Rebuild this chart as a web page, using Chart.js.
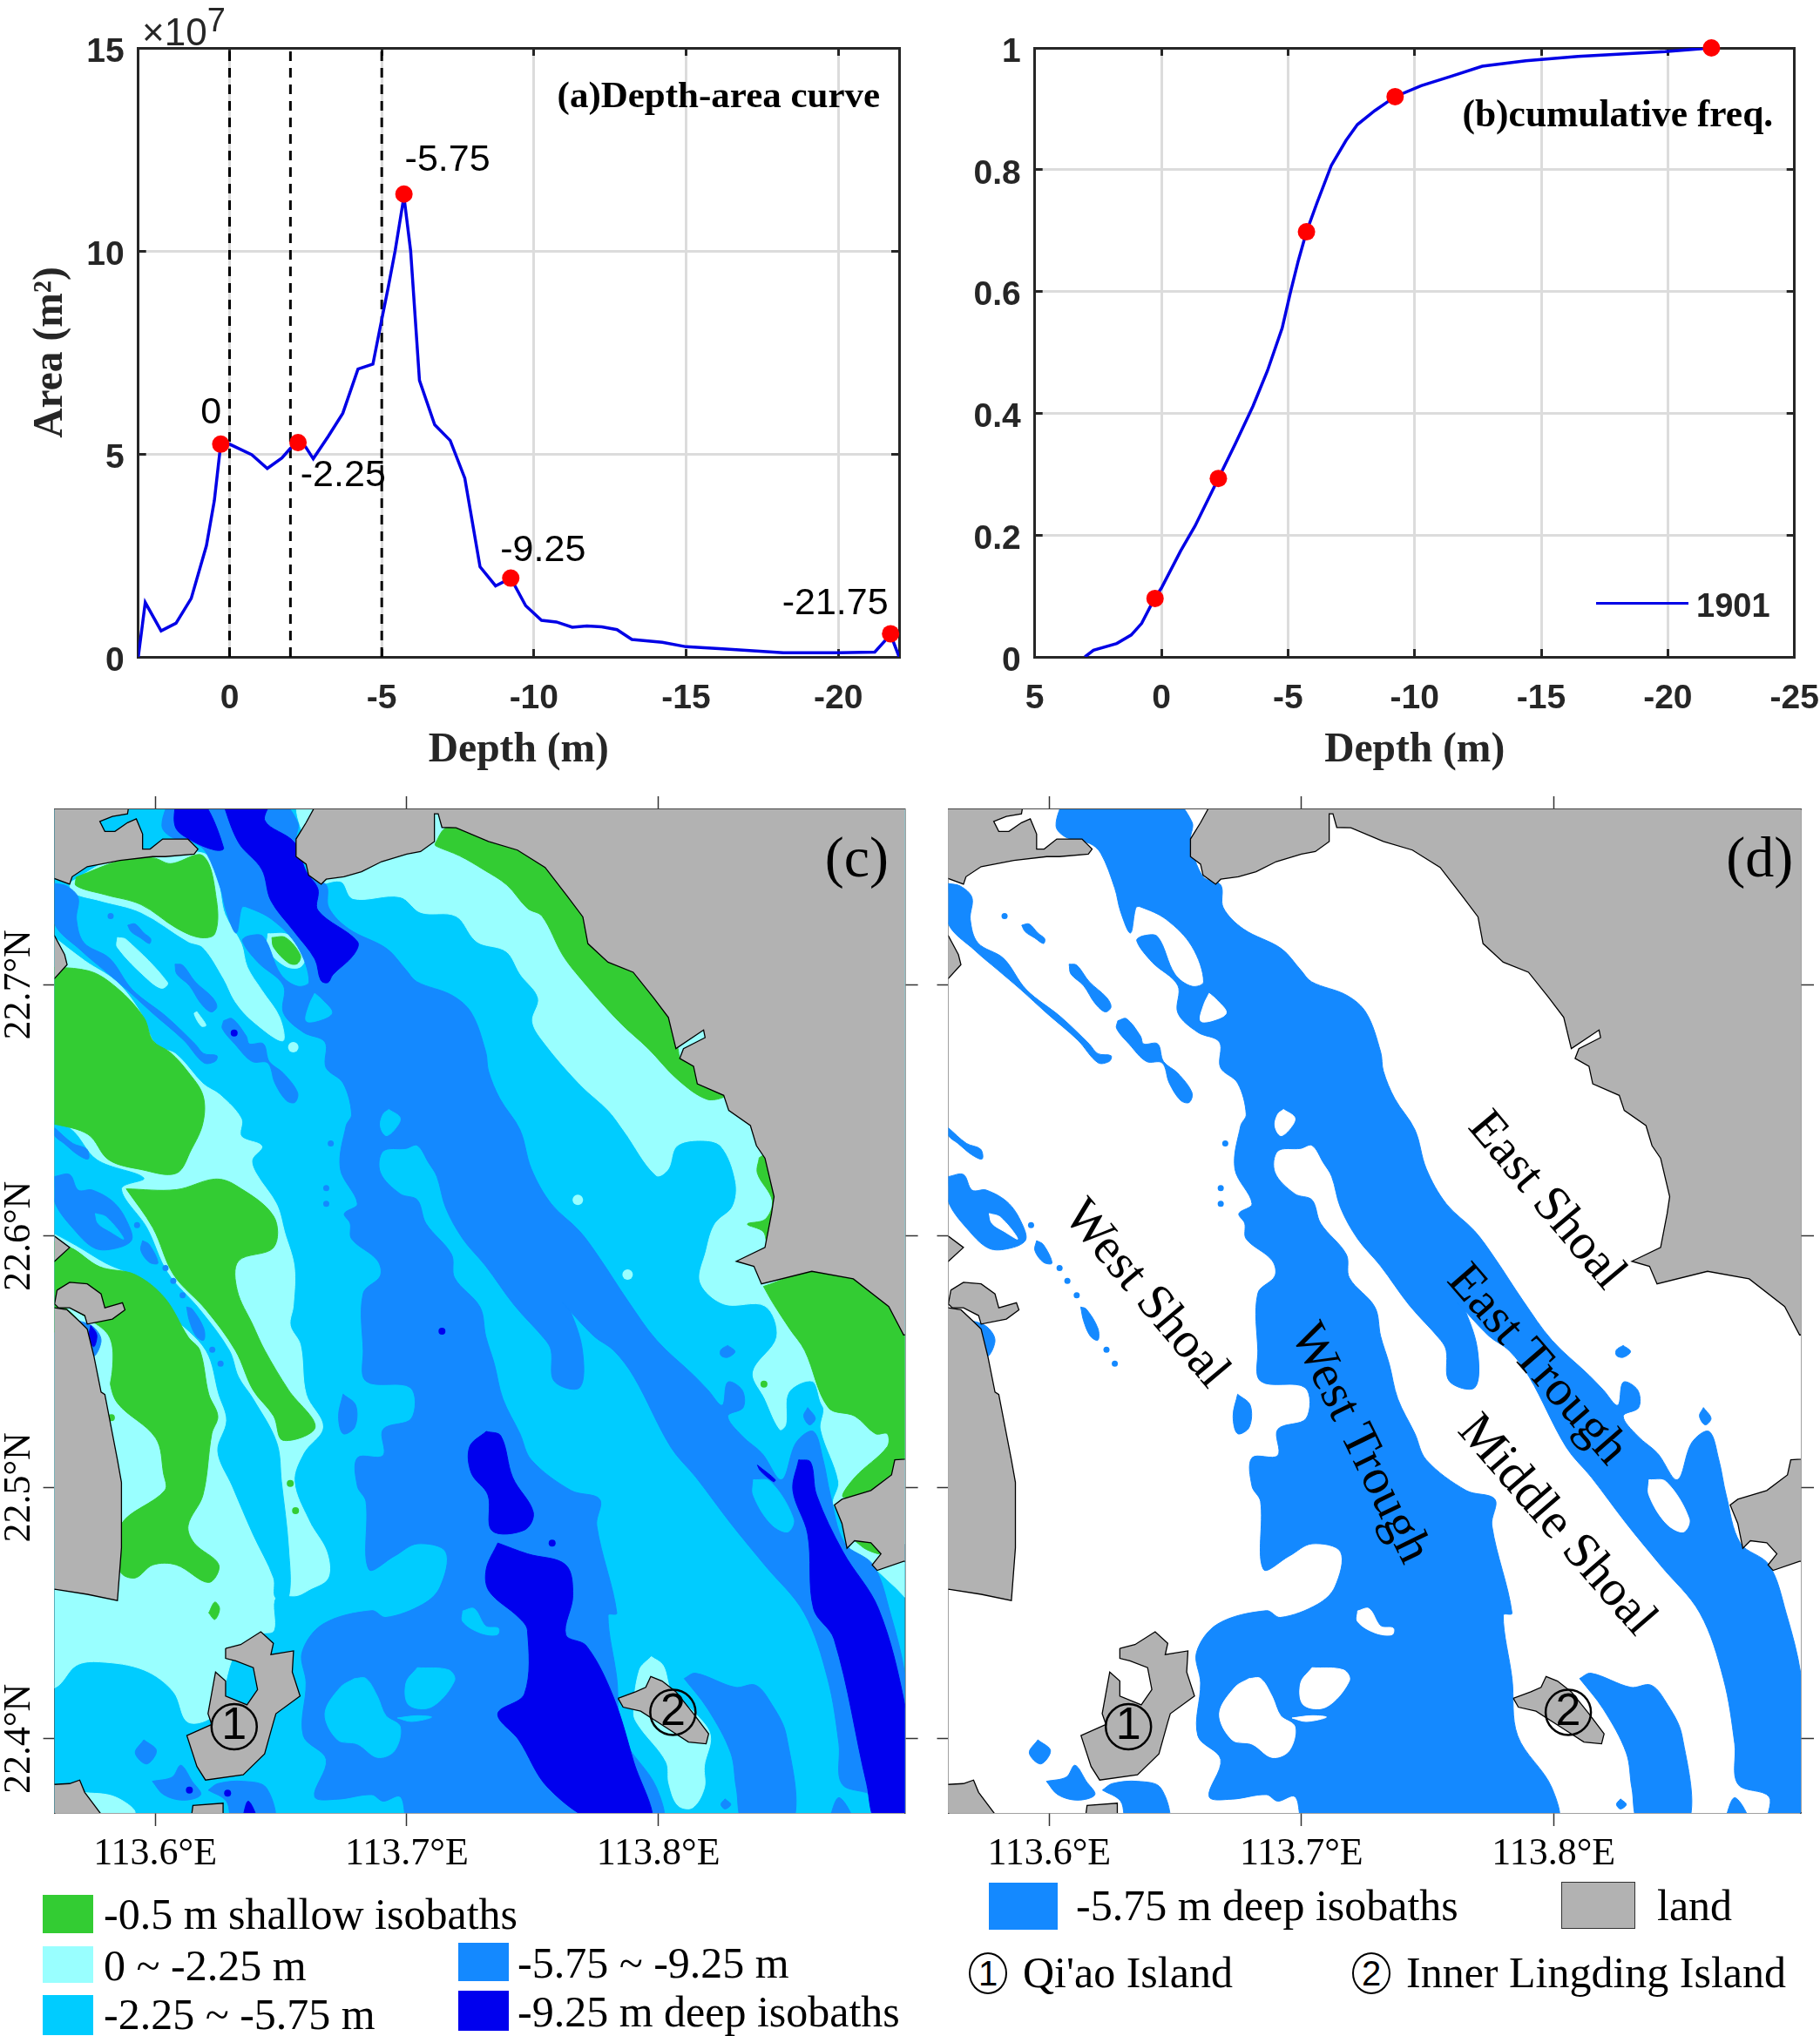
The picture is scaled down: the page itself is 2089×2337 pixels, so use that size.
<!DOCTYPE html>
<html>
<head>
<meta charset="utf-8">
<title>Depth-area curve and isobaths</title>
<script src="https://cdn.jsdelivr.net/npm/chart.js@4"></script>
<style>
  body { margin:0; background:#fff; width:2089px; height:2337px; position:relative; overflow:hidden; }
  canvas { position:absolute; }
  .t { position:absolute; white-space:nowrap; line-height:1; color:#000; z-index:3; }
  .serif { font-family:"Liberation Serif"; font-size:50px; transform:translateY(-50%); }
  .sw { position:absolute; z-index:3; box-sizing:border-box; }
  .ring { position:absolute; z-index:3; width:44px; height:48px; border:2.5px solid #000; border-radius:50%;
          font:40px "Liberation Sans"; text-align:center; line-height:44px; box-sizing:border-box; }
</style>
</head>
<body>
<canvas id="cA" style="left:0;top:0" width="1045" height="900"></canvas>
<canvas id="cB" style="left:1045px;top:0" width="1044" height="900"></canvas>
<canvas id="cC" style="left:0;top:900px" width="1080" height="1260"></canvas>
<canvas id="cD" style="left:1060px;top:900px" width="1050" height="1260"></canvas>

<span class="t" style="left:163px;top:12px;font:44px 'Liberation Sans';color:#262626">×10<span style="font-size:38px;position:relative;top:-16px">7</span></span>
<div class="sw" style="left:1832px;top:691px;width:106px;height:3px;background:#0000E6"></div>
<span class="t" style="left:1947px;top:674px;font:bold 38px 'Liberation Sans';color:#262626">1901</span>

<div class="sw" style="left:49px;top:2175px;width:58px;height:44px;background:#33CC33"></div>
<span class="t serif" style="left:119px;top:2197px">-0.5 m shallow isobaths</span>
<div class="sw" style="left:49px;top:2234px;width:58px;height:42px;background:#99FFFF"></div>
<span class="t serif" style="left:119px;top:2256px">0 ~ -2.25 m</span>
<div class="sw" style="left:49px;top:2290px;width:58px;height:46px;background:#00CCFF"></div>
<span class="t serif" style="left:119px;top:2312px">-2.25 ~ -5.75 m</span>
<div class="sw" style="left:526px;top:2230px;width:58px;height:44px;background:#1489FF"></div>
<span class="t serif" style="left:594px;top:2253px">-5.75 ~ -9.25 m</span>
<div class="sw" style="left:526px;top:2285px;width:58px;height:46px;background:#0000EE"></div>
<span class="t serif" style="left:594px;top:2309px">-9.25 m deep isobaths</span>

<div class="sw" style="left:1135px;top:2161px;width:79px;height:54px;background:#1489FF"></div>
<span class="t serif" style="left:1235px;top:2187px">-5.75 m deep isobaths</span>
<div class="sw" style="left:1792px;top:2160px;width:85px;height:54px;background:#B2B2B2;border:1px solid #333"></div>
<span class="t serif" style="left:1902px;top:2187px">land</span>
<div class="ring" style="left:1112px;top:2241px">1</div>
<span class="t serif" style="left:1174px;top:2264px">Qi'ao Island</span>
<div class="ring" style="left:1552px;top:2241px">2</div>
<span class="t serif" style="left:1614px;top:2264px">Inner Lingding Island</span>

<script>
// (a) depth-area curve, x is depth in m, y is area in 1e7 m2
const areaDepth = [3,2.77,2.25,1.76,1.26,.76,.5,.29,0,-.73,-1.24,-1.72,-2,-2.25,-2.5,-2.75,-3.24,-3.72,-4.22,-4.71,-4.96,-5.21,-5.44,-5.73,-5.95,-6.24,-6.74,-7.25,-7.73,-8.23,-8.74,-9.24,-9.73,-10.25,-10.74,-11.26,-11.74,-12.23,-12.73,-13.22,-14.22,-15,-16.2,-18.2,-20,-21.2,-21.72,-22];
const areaValue = [0,1.34,.64,.83,1.44,2.74,3.85,5.24,5.24,4.98,4.64,4.9,5.14,5.28,5.17,4.88,5.43,6,7.09,7.21,8.16,9.09,10,11.34,10,6.81,5.72,5.33,4.4,2.22,1.75,1.94,1.26,.9,.86,.73,.76,.74,.67,.43,.36,.25,.2,.1,.1,.12,.55,0];
const areaMarkX = [.29,-2.25,-5.73,-9.24,-21.72];
const areaMarkY = [5.24,5.28,11.4,1.94,.57];
const dashDepths = [0,-2,-5];
const areaXTicks = [0,-5,-10,-15,-20];
const areaYTicks = [0,5,10,15];

// (b) cumulative frequency
const cumDepth = [3.02,2.68,1.76,1.19,.78,.27,0,-.76,-1.33,-2.25,-2.93,-3.62,-4.19,-4.77,-5.11,-5.41,-5.73,-6.14,-6.71,-7.29,-7.74,-8.43,-9.23,-10.26,-11.41,-12.67,-14.39,-16.45,-19.89,-21.72];
const cumValue = [0,.011,.022,.036,.055,.096,.113,.174,.215,.293,.351,.412,.47,.54,.601,.651,.698,.745,.807,.848,.874,.897,.92,.938,.953,.97,.979,.986,.994,1];
const cumMarkX = [.25,-2.25,-5.73,-9.23,-21.72];
const cumMarkY = [.096,.293,.698,.92,1];
const cumXTicks = [5,0,-5,-10,-15,-20,-25];
const cumYTicks = [0,.2,.4,.6,.8,1];

// maps, every ring is [lon, lat] pairs
const lonTicks = [113.6,113.7,113.8];
const latTicks = [22.4,22.5,22.6,22.7];

const landRings = [
  [[113.55,22.78],[113.591,22.78],[113.589,22.768],[113.583,22.767],[113.578,22.765],[113.58,22.761],[113.584,22.761],[113.589,22.7645],[113.5925,22.766],[113.595,22.76],[113.595,22.754],[113.598,22.754],[113.603,22.758],[113.613,22.758],[113.617,22.754],[113.6155,22.752],[113.604,22.751],[113.599,22.751],[113.586,22.7495],[113.573,22.747],[113.567,22.743],[113.566,22.74],[113.55,22.746]],
  [[113.663,22.78],[113.663,22.77],[113.66,22.7645],[113.656,22.758],[113.656,22.751],[113.66,22.748],[113.661,22.7436],[113.666,22.74],[113.668,22.742],[113.675,22.743],[113.682,22.745],[113.69,22.749],[113.7,22.752],[113.7055,22.753],[113.711,22.757],[113.711,22.768],[113.7125,22.768],[113.714,22.7626],[113.7196,22.7625],[113.7325,22.757],[113.744,22.7536],[113.755,22.7467],[113.764,22.735],[113.77,22.727],[113.772,22.7164],[113.78,22.709],[113.79,22.705],[113.798,22.695],[113.804,22.687],[113.807,22.6746],[113.818,22.682],[113.8186,22.679],[113.81,22.6746],[113.8085,22.6707],[113.814,22.6676],[113.8155,22.6606],[113.826,22.656],[113.828,22.65],[113.8366,22.644],[113.839,22.636],[113.8424,22.631],[113.846,22.6157],[113.845,22.609],[113.8424,22.5955],[113.831,22.59],[113.838,22.588],[113.841,22.581],[113.861,22.586],[113.8775,22.583],[113.8916,22.572],[113.8975,22.5607],[113.91,22.5607],[113.91,22.78]],
  [[113.55,22.7195],[113.56,22.7195],[113.564,22.712],[113.565,22.708],[113.56,22.7025],[113.55,22.7025]],
  [[113.55,22.6],[113.56,22.6],[113.566,22.5955],[113.56,22.59],[113.55,22.59]],
  [[113.561,22.5785],[113.566,22.5816],[113.573,22.581],[113.5785,22.577],[113.58,22.5715],[113.587,22.5735],[113.588,22.5707],[113.583,22.567],[113.573,22.565],[113.572,22.5684],[113.566,22.5715],[113.5616,22.5715],[113.56,22.573]],
  [[113.55,22.5715],[113.56,22.5715],[113.565,22.5707],[113.57,22.566],[113.573,22.563],[113.5757,22.552],[113.5785,22.538],[113.58,22.537],[113.585,22.511],[113.5866,22.502],[113.5866,22.476],[113.585,22.455],[113.573,22.4575],[113.56,22.4595],[113.55,22.4595]],
  [[113.628,22.436],[113.634,22.4375],[113.642,22.4426],[113.647,22.438],[113.646,22.4335],[113.655,22.435],[113.6545,22.4266],[113.6576,22.417],[113.648,22.41],[113.647,22.4066],[113.6435,22.394],[113.635,22.3857],[113.62,22.3836],[113.6166,22.389],[113.6126,22.4013],[113.6225,22.4057],[113.621,22.41],[113.624,22.4266],[113.628,22.423],[113.628,22.417],[113.6365,22.4135],[113.6407,22.4196],[113.639,22.4283],[113.632,22.431],[113.628,22.432]],
  [[113.784,22.4161],[113.791,22.4187],[113.795,22.4205],[113.797,22.4248],[113.8015,22.423],[113.807,22.4187],[113.814,22.41],[113.82,22.402],[113.819,22.398],[113.812,22.3987],[113.8026,22.4048],[113.793,22.411],[113.786,22.4126]],
  [[113.55,22.3813],[113.566,22.3822],[113.57,22.3836],[113.572,22.3787],[113.5815,22.366],[113.55,22.366]],
  [[113.614,22.366],[113.615,22.3735],[113.627,22.3744],[113.627,22.366]],
  [[113.91,22.512],[113.894,22.511],[113.8927,22.505],[113.8845,22.4988],[113.873,22.4953],[113.87,22.493],[113.873,22.4857],[113.875,22.4758],[113.878,22.4788],[113.8845,22.478],[113.8885,22.4736],[113.885,22.4692],[113.887,22.467],[113.8975,22.4706],[113.91,22.4706]]
];

const deepRings = [
  [[113.606,22.775],[113.647,22.775],[113.6566,22.7648],[113.656,22.757],[113.661,22.743],[113.668,22.7397],[113.669,22.7307],[113.677,22.7222],[113.692,22.7144],[113.6997,22.7059],[113.704,22.7012],[113.718,22.6958],[113.7257,22.6888],[113.7314,22.6733],[113.7325,22.6656],[113.737,22.6547],[113.745,22.6423],[113.7495,22.6268],[113.7574,22.6129],[113.7687,22.602],[113.7767,22.5912],[113.788,22.5741],[113.7993,22.5586],[113.814,22.5447],[113.8197,22.5388],[113.8254,22.5327],[113.8276,22.5419],[113.8333,22.5388],[113.8337,22.5318],[113.8276,22.5284],[113.8333,22.5205],[113.8412,22.5136],[113.849,22.5031],[113.8548,22.5179],[113.8616,22.5223],[113.8655,22.511],[113.8684,22.497],[113.874,22.4779],[113.8854,22.4692],[113.8922,22.45],[113.898,22.4257],[113.905,22.366],[113.8854,22.366],[113.8854,22.377],[113.873,22.382],[113.8718,22.398],[113.8673,22.424],[113.858,22.45],[113.8424,22.469],[113.8288,22.4857],[113.815,22.504],[113.805,22.516],[113.7903,22.544],[113.7823,22.5545],[113.7744,22.5602],[113.762,22.5734],[113.7653,22.5695],[113.7699,22.554],[113.7687,22.5397],[113.7586,22.5423],[113.7574,22.5545],[113.7552,22.5586],[113.7427,22.5726],[113.7314,22.5881],[113.7223,22.5989],[113.7155,22.6113],[113.712,22.6237],[113.7087,22.6292],[113.7042,22.6361],[113.6997,22.6349],[113.6906,22.6338],[113.6895,22.6253],[113.6974,22.6168],[113.7042,22.6144],[113.7076,22.6051],[113.7178,22.5927],[113.719,22.5834],[113.7291,22.5718],[113.7314,22.5602],[113.7348,22.5492],[113.7382,22.5353],[113.745,22.5214],[113.7495,22.511],[113.7653,22.4988],[113.7767,22.4953],[113.7755,22.4849],[113.7835,22.45],[113.78,22.4492],[113.7835,22.424],[113.7857,22.4013],[113.7993,22.3805],[113.8004,22.366],[113.7019,22.366],[113.6974,22.377],[113.6906,22.3752],[113.6861,22.3778],[113.6725,22.376],[113.6634,22.377],[113.668,22.3918],[113.6589,22.4013],[113.66,22.4222],[113.6584,22.4344],[113.6668,22.4457],[113.6861,22.451],[113.6917,22.4483],[113.7065,22.4536],[113.7133,22.4605],[113.7155,22.4744],[113.7042,22.4776],[113.6951,22.4727],[113.6849,22.4675],[113.6838,22.4944],[113.6804,22.5005],[113.6804,22.5118],[113.6906,22.5127],[113.6906,22.5231],[113.7019,22.5275],[113.7015,22.5397],[113.6838,22.5423],[113.6827,22.5545],[113.6827,22.5772],[113.6895,22.5842],[113.6883,22.5904],[113.6781,22.5989],[113.6775,22.6051],[113.6752,22.609],[113.6804,22.6129],[113.6736,22.6268],[113.6759,22.6439],[113.6781,22.6485],[113.6747,22.6609],[113.6679,22.6671],[113.6675,22.6772],[113.6589,22.6811],[113.651,22.6888],[113.651,22.6997],[113.6408,22.709],[113.6347,22.7175],[113.6374,22.7195],[113.643,22.7191],[113.6498,22.7043],[113.6566,22.6994],[113.6612,22.7012],[113.6566,22.7152],[113.6464,22.726],[113.6362,22.731],[113.6344,22.7307],[113.6322,22.7206],[113.6283,22.7291],[113.626,22.7384],[113.6204,22.7524],[113.6159,22.7563],[113.6068,22.7586],[113.6027,22.7632]],
  [[113.5599,22.7403],[113.5649,22.7392],[113.5694,22.7346],[113.5687,22.726],[113.5717,22.7167],[113.5819,22.7105],[113.5909,22.6981],[113.6045,22.6873],[113.6159,22.6764],[113.6193,22.6726],[113.6245,22.6718],[113.6238,22.6695],[113.6193,22.669],[113.6113,22.678],[113.5989,22.6888],[113.5887,22.6981],[113.5796,22.7059],[113.5706,22.7136],[113.5599,22.7245]],
  [[113.5891,22.7237],[113.592,22.7242],[113.5955,22.7206],[113.5982,22.7183],[113.5977,22.7164],[113.5943,22.7186],[113.5905,22.7211]],
  [[113.6079,22.7082],[113.6109,22.7078],[113.6159,22.7012],[113.6227,22.695],[113.6245,22.6912],[113.6222,22.6892],[113.6181,22.6927],[113.6136,22.6997],[113.6086,22.7043]],
  [[113.6272,22.6857],[113.6306,22.6865],[113.6362,22.6796],[113.6374,22.6765],[113.643,22.6765],[113.6453,22.6695],[113.651,22.6648],[113.6566,22.6571],[113.6555,22.6532],[113.6521,22.654],[113.6476,22.6609],[113.6448,22.6689],[113.6385,22.6695],[113.6317,22.6764],[113.6267,22.6826]],
  [[113.56,22.6431],[113.5672,22.6369],[113.5728,22.6346],[113.5734,22.6307],[113.5694,22.6323],[113.5638,22.6369],[113.56,22.64]],
  [[113.56,22.6237],[113.566,22.6245],[113.5694,22.6183],[113.5751,22.6183],[113.5841,22.6129],[113.5898,22.6036],[113.5905,22.5982],[113.5841,22.5951],[113.5762,22.5951],[113.5683,22.602],[113.56,22.6137]],
  [[113.595,22.5982],[113.5977,22.5966],[113.6011,22.5893],[113.5977,22.5896],[113.5943,22.5943]],
  [[113.6125,22.5718],[113.6147,22.571],[113.6193,22.5633],[113.6193,22.5586],[113.6163,22.5602],[113.6136,22.5664]],
  [[113.5683,22.5667],[113.5751,22.5641],[113.5785,22.5586],[113.5756,22.5524],[113.5728,22.5633]],
  [[113.8276,22.5565],[113.8305,22.5541],[113.8276,22.5518],[113.8249,22.5525],[113.8249,22.5548]],
  [[113.8594,22.5318],[113.8624,22.5275],[113.8601,22.5249],[113.8578,22.5284]],
  [[113.6747,22.5371],[113.6797,22.5327],[113.6793,22.524],[113.6747,22.5214],[113.6729,22.5284]],
  [[113.5955,22.3996],[113.6005,22.3953],[113.5966,22.39],[113.5921,22.3944]],
  [[113.5989,22.3831],[113.6068,22.3848],[113.6102,22.3895],[113.6147,22.3831],[113.6181,22.3778],[113.6113,22.3756],[113.6034,22.3778]],
  [[113.6211,22.3796],[113.625,22.3822],[113.6351,22.3831],[113.6442,22.3805],[113.6471,22.366],[113.6313,22.366],[113.6283,22.3752]],
  [[113.8103,22.424],[113.8148,22.4261],[113.8306,22.4205],[113.8385,22.4214],[113.8441,22.4153],[113.8509,22.4013],[113.8532,22.366],[113.8344,22.366],[113.831,22.3805],[113.8288,22.3944],[113.8197,22.4118]],
  [[113.8673,22.366],[113.8718,22.3766],[113.8775,22.366]],
  [[113.8265,22.3761],[113.8288,22.3739],[113.8265,22.3721],[113.8249,22.3739]]
];
const deepDots = [[113.5823,22.7273],[113.668,22.6191],[113.668,22.6129],[113.6698,22.6369],[113.5928,22.6044],[113.6041,22.5873],[113.6072,22.5822],[113.6109,22.5765],[113.6227,22.5548],[113.626,22.5493]];

const holeRings = [
  [[113.5762,22.609],[113.5807,22.6075],[113.5875,22.5989],[113.5819,22.602],[113.5773,22.6051]],
  [[113.6929,22.6504],[113.6974,22.647],[113.6951,22.6423],[113.6917,22.64],[113.6895,22.6439],[113.6906,22.6485]],
  [[113.6634,22.6966],[113.6661,22.6943],[113.6702,22.6888],[113.6645,22.6857],[113.66,22.6857],[113.6612,22.6919]],
  [[113.8378,22.5031],[113.8446,22.5023],[113.8537,22.4875],[113.8514,22.4823],[113.8446,22.4857],[113.8378,22.4969]],
  [[113.6793,22.424],[113.6838,22.424],[113.6883,22.417],[113.6917,22.4092],[113.6974,22.4048],[113.6951,22.3952],[113.6883,22.3926],[113.6804,22.3979],[113.6725,22.3996],[113.6675,22.41],[113.6736,22.4205]],
  [[113.7042,22.4283],[113.7167,22.4274],[113.719,22.4231],[113.7099,22.4127],[113.7008,22.4135],[113.6997,22.4222]],
  [[113.6963,22.4083],[113.7042,22.4092],[113.7099,22.4086],[113.7019,22.4069]],
  [[113.7223,22.4509],[113.7268,22.4518],[113.7314,22.4448],[113.7364,22.444],[113.7359,22.4414],[113.7291,22.4422],[113.7223,22.4466]]
];

const shallowRings = [
  [[113.666,22.74],[113.674,22.741],[113.6786,22.7343],[113.6973,22.735],[113.7055,22.7288],[113.7196,22.7273],[113.7278,22.7172],[113.7395,22.7133],[113.7453,22.704],[113.7523,22.6947],[113.75,22.6854],[113.7547,22.6769],[113.7687,22.6606],[113.7804,22.6498],[113.7863,22.642],[113.7991,22.6242],[113.8038,22.6265],[113.8073,22.6358],[113.8167,22.6381],[113.8249,22.6358],[113.8307,22.6219],[113.8296,22.6118],[113.8225,22.6048],[113.819,22.594],[113.8167,22.5816],[113.826,22.573],[113.8424,22.5722],[113.8471,22.5599],[113.8377,22.5459],[113.8424,22.5353],[113.8483,22.5231],[113.8506,22.5249],[113.8518,22.5379],[113.8612,22.5423],[113.8647,22.5336],[113.8658,22.531],[113.8647,22.5231],[113.8717,22.5023],[113.87,22.4927],[113.89,22.48],[113.905,22.48],[113.905,22.775],[113.66,22.775]],
  [[113.5658,22.7405],[113.585,22.7505],[113.619,22.7524],[113.6249,22.7412],[113.6277,22.7281],[113.6342,22.7164],[113.6366,22.7071],[113.6424,22.6978],[113.6495,22.687],[113.6507,22.6777],[113.6389,22.6854],[113.6319,22.6932],[113.6272,22.7025],[113.619,22.7149],[113.6131,22.7172],[113.5944,22.7288],[113.578,22.7335],[113.5674,22.7366]],
  [[113.585,22.7188],[113.5885,22.718],[113.6049,22.7009],[113.6026,22.6986],[113.5967,22.7025],[113.585,22.7149]],
  [[113.6166,22.6893],[113.6202,22.6839],[113.6183,22.6836],[113.6155,22.6885]],
  [[113.6448,22.7203],[113.653,22.7198],[113.6596,22.7118],[113.6577,22.7071],[113.6518,22.7074],[113.6448,22.7141]],
  [[113.558,22.7203],[113.5721,22.7095],[113.585,22.7009],[113.5944,22.6885],[113.6002,22.6761],[113.6084,22.6723],[113.619,22.6606],[113.626,22.656],[113.6342,22.6467],[113.6342,22.6397],[113.6424,22.6358],[113.6385,22.6304],[113.6401,22.625],[113.6483,22.6126],[113.6514,22.6017],[113.6553,22.5878],[113.6549,22.5723],[113.6537,22.5645],[113.6577,22.5568],[113.66,22.5371],[113.6666,22.524],[113.6589,22.5136],[113.6553,22.5023],[113.6612,22.4866],[113.6682,22.4744],[113.6687,22.464],[113.6612,22.4593],[113.6565,22.457],[113.6478,22.4562],[113.6471,22.4431],[113.642,22.4417],[113.6319,22.4344],[113.6237,22.41],[113.6131,22.4066],[113.6073,22.4187],[113.5955,22.4274],[113.578,22.4306],[113.5686,22.4292],[113.5604,22.4205],[113.55,22.4205],[113.55,22.7203]],
  [[113.7972,22.4327],[113.8019,22.4292],[113.8054,22.4187],[113.8148,22.41],[113.8207,22.4013],[113.8183,22.3892],[113.8183,22.3805],[113.8136,22.3726],[113.8078,22.3735],[113.8042,22.3822],[113.8031,22.3909],[113.7925,22.4048],[113.7902,22.41],[113.7925,22.4274]],
  [[113.5709,22.3787],[113.5838,22.377],[113.592,22.3704],[113.5803,22.366]],
  [[113.887,22.467],[113.8975,22.4706],[113.9,22.4553],[113.894,22.4605]],
  [[113.8758,22.4758],[113.8786,22.4788],[113.8891,22.4736],[113.8856,22.4692],[113.8816,22.4727]]
];
const shallowDots = [[113.768,22.6144],[113.7878,22.5847],[113.6549,22.6752]];

const midRings = [
  [[113.55,22.6064],[113.5686,22.5963],[113.5803,22.5893],[113.5967,22.5816],[113.6061,22.5692],[113.6202,22.5545],[113.6253,22.5371],[113.6284,22.5266],[113.6249,22.5144],[113.6307,22.5005],[113.6389,22.4814],[113.6471,22.464],[113.6478,22.4562],[113.653,22.4562],[113.653,22.4762],[113.6502,22.5023],[113.6483,22.5179],[113.6389,22.5353],[113.6331,22.544],[113.6295,22.5545],[113.6178,22.5707],[113.6049,22.5855],[113.5967,22.6033],[113.5866,22.6188],[113.5955,22.6231],[113.5768,22.6304],[113.5662,22.6428],[113.55,22.6498]]
];

const greenRings = [
  [[113.5686,22.7428],[113.5862,22.7494],[113.5991,22.7505],[113.6061,22.7482],[113.619,22.7513],[113.6244,22.7335],[113.6237,22.7203],[113.6178,22.7188],[113.6084,22.7226],[113.5944,22.7319],[113.5803,22.7358],[113.5686,22.7394]],
  [[113.6464,22.7188],[113.6518,22.7188],[113.6577,22.7118],[113.6565,22.7084],[113.653,22.7087],[113.6471,22.7149]],
  [[113.55,22.7071],[113.5733,22.7056],[113.585,22.6986],[113.5955,22.687],[113.5991,22.6777],[113.6061,22.673],[113.6131,22.6653],[113.619,22.656],[113.619,22.6451],[113.6143,22.6343],[113.6084,22.625],[113.5944,22.6265],[113.5815,22.6304],[113.5733,22.6405],[113.55,22.6506]],
  [[113.5885,22.6188],[113.6084,22.6185],[113.6237,22.6227],[113.6319,22.6203],[113.6471,22.6079],[113.6471,22.5955],[113.6331,22.5901],[113.6326,22.5785],[113.6389,22.5645],[113.6436,22.5545],[113.653,22.5388],[113.6636,22.524],[113.6507,22.5188],[113.6471,22.5284],[113.6389,22.5388],[113.6319,22.5545],[113.6202,22.5707],[113.6073,22.5847],[113.5991,22.6033]],
  [[113.55,22.6002],[113.5662,22.5955],[113.578,22.5878],[113.592,22.5847],[113.6038,22.5754],[113.6131,22.5599],[113.6178,22.5545],[113.6213,22.5371],[113.6249,22.5284],[113.6225,22.5214],[113.619,22.497],[113.6131,22.4849],[113.6155,22.4779],[113.6253,22.4692],[113.6213,22.4622],[113.6084,22.4692],[113.5991,22.4692],[113.592,22.464],[113.5862,22.4666],[113.5862,22.4849],[113.6038,22.4988],[113.6033,22.5057],[113.6002,22.5197],[113.585,22.5336],[113.5815,22.544],[113.5791,22.5545],[113.5733,22.563],[113.55,22.563]],
  [[113.6213,22.4501],[113.6237,22.4544],[113.6256,22.4518],[113.6237,22.4475]],
  [[113.7112,22.756],[113.7151,22.7622],[113.7198,22.7625],[113.7327,22.7567],[113.7445,22.7536],[113.755,22.7467],[113.7644,22.735],[113.7702,22.7273],[113.7726,22.7164],[113.7808,22.709],[113.7902,22.7048],[113.7984,22.6947],[113.8042,22.687],[113.8078,22.6746],[113.8089,22.6707],[113.8148,22.6676],[113.816,22.6606],[113.8265,22.656],[113.8195,22.6544],[113.8078,22.6622],[113.796,22.6746],[113.7843,22.6854],[113.7691,22.7025],[113.762,22.7118],[113.7538,22.7273],[113.748,22.7304],[113.7398,22.7397],[113.7304,22.7459],[113.721,22.7513],[113.7116,22.7552]],
  [[113.8401,22.6312],[113.8434,22.6327],[113.8472,22.6157],[113.8465,22.6087],[113.8434,22.5955],[113.8418,22.6017],[113.8354,22.6048],[113.8425,22.6067],[113.8453,22.6141],[113.8394,22.625]],
  [[113.8418,22.58],[113.8617,22.5862],[113.8781,22.5831],[113.8922,22.5723],[113.898,22.5607],[113.905,22.5607],[113.905,22.5118],[113.8945,22.511],[113.8934,22.5049],[113.8852,22.4988],[113.8734,22.4962],[113.8781,22.504],[113.891,22.5162],[113.891,22.5214],[113.8863,22.5214],[113.8781,22.5284],[113.8676,22.5318],[113.8582,22.5545],[113.8523,22.563],[113.8453,22.5738]],
  [[113.8786,22.4784],[113.8852,22.4779],[113.8887,22.4736],[113.8828,22.4753]]
];
const greenDots = [[113.5826,22.5278],[113.6537,22.5016],[113.6558,22.4908],[113.842,22.5411]];

const coastCyan = [[113.5639,22.5723],[113.5733,22.5669],[113.5815,22.5599],[113.5827,22.5475],[113.58,22.5369],[113.5757,22.552],[113.57,22.566]];

const darkRings = [
  [[113.6084,22.775],[113.6174,22.775],[113.6272,22.7544],[113.6237,22.7536],[113.6143,22.7575],[113.608,22.7629]],
  [[113.626,22.775],[113.646,22.775],[113.6436,22.7653],[113.6553,22.7567],[113.66,22.7451],[113.6647,22.7381],[113.6647,22.7296],[113.6804,22.7172],[113.6788,22.7118],[113.6706,22.704],[113.6687,22.7009],[113.6659,22.7017],[113.6635,22.7102],[113.6553,22.7211],[113.646,22.7335],[113.6424,22.7459],[113.6331,22.7567]],
  [[113.7316,22.5223],[113.7374,22.5205],[113.7421,22.504],[113.7503,22.4901],[113.7468,22.4831],[113.7339,22.4828],[113.7323,22.497],[113.7257,22.5057],[113.725,22.5162]],
  [[113.7362,22.4779],[113.748,22.4736],[113.7632,22.4692],[113.766,22.457],[113.7632,22.4414],[113.7714,22.437],[113.782,22.417],[113.7902,22.3909],[113.7972,22.366],[113.7773,22.366],[113.7562,22.3805],[113.7445,22.3996],[113.7362,22.41],[113.7468,22.4179],[113.748,22.4431],[113.7445,22.4483],[113.7327,22.4588],[113.7316,22.4675]],
  [[113.8558,22.511],[113.8605,22.5101],[113.8629,22.497],[113.8734,22.4744],[113.8875,22.4518],[113.898,22.4135],[113.905,22.366],[113.8875,22.366],[113.8828,22.3822],[113.8699,22.4396],[113.8617,22.4518],[113.8594,22.4814],[113.8535,22.4988]],
  [[113.5744,22.5645],[113.5768,22.5607],[113.5756,22.556],[113.5737,22.5599]],
  [[113.8394,22.5089],[113.8465,22.5031],[113.8458,22.5023],[113.8406,22.5066]],
  [[113.6342,22.366],[113.637,22.3752],[113.6406,22.366]]
];
const darkDots = [[113.714,22.5622],[113.7578,22.4779],[113.6314,22.6808],[113.6136,22.3796],[113.6288,22.3784]];

const islandLon = [113.6314,113.8058];
const islandLat = [22.4048,22.4105];
const islandNames = ['1','2'];

const shoalNames = ['East Shoal','West Shoal','East Trough','West Trough','Middle Shoal'];
const shoalLon = [113.797,113.6382,113.7933,113.7229,113.801];
const shoalLat = [22.614,22.5768,22.5486,22.5174,22.4848];
const shoalTilt = [50,50,49,64,49];

const BLUE='#0000E6', RED='#FF0000', INK='#262626', GRID='#DCDCDC';
const GREEN='#33CC33', CYAN='#99FFFF', MID='#00CCFF', DEEP='#1489FF', DARK='#0000EE', LAND='#B2B2B2';

Chart.defaults.animation = false;
Chart.defaults.events = [];

// text placed at data coordinates
function notesPlugin(list) {
  return { id:'notes', afterDatasetsDraw(chart) {
    const c = chart.ctx;
    list.forEach(n => {
      c.save();
      c.translate(chart.scales.x.getPixelForValue(n.x), chart.scales.y.getPixelForValue(n.y));
      if (n.rot) c.rotate(n.rot*Math.PI/180);
      c.font = n.font; c.fillStyle = n.color || '#000';
      c.textAlign = 'center'; c.textBaseline = 'middle';
      c.fillText(n.text, 0, 0);
      c.restore();
    });
  }};
}

function plotBg(color) {
  return { id:'plotBg', beforeDatasetsDraw(chart) {
    const a = chart.chartArea;
    chart.ctx.fillStyle = color;
    chart.ctx.fillRect(a.left, a.top, a.right-a.left, a.bottom-a.top);
  }};
}

function fix(s, w, h) {
  if (w !== null) s.width = w;
  if (h !== null) s.height = h;
  s.paddingLeft = s.paddingRight = s.paddingTop = s.paddingBottom = 0;
}
const useTicks = list => s => { s.ticks = list.map(v => ({value:v})); };
const pts = (xs, ys) => xs.map((x,i) => ({x, y:ys[i]}));
const rings = (list, color, extra) => list.map(r => Object.assign({
  data:[...r, r[0]].map(p => ({x:p[0], y:p[1]})), fill:'shape', backgroundColor:color, borderColor:color,
  borderWidth:1, pointRadius:0, tension:.35, capBezierPoints:false
}, extra||{}));
const dots = (list, color, r) => ({ data:list.map(p => ({x:p[0], y:p[1]})), showLine:false, pointRadius:r, pointBackgroundColor:color, pointBorderWidth:0 });

function curveChart(id, box, cfg) {
  const W = document.getElementById(id).width, H = document.getElementById(id).height;
  const tickFont = {family:'Liberation Sans', weight:'bold', size:39};
  const titleFont = {family:'Liberation Serif', weight:'bold', size:47.5};
  const mirror = (axis, pos, ticks, lim, rev) => ({
    type:'linear', axis, position:pos, min:lim[0], max:lim[1], reverse:rev,
    afterBuildTicks:useTicks(ticks), afterFit:s => fix(s, axis==='y'?0:null, axis==='x'?0:null),
    ticks:{display:false}, border:{color:INK, width:3},
    grid:{drawOnChartArea:false, tickLength:-9, tickColor:INK, tickWidth:3}
  });
  return new Chart(document.getElementById(id), {
    type:'line',
    data:{datasets:cfg.datasets},
    options:{
      responsive:false, parsing:true,
      layout:{padding:{left:0, top:box.top, right:W-box.right, bottom:0}},
      plugins:{legend:{display:false}, tooltip:{enabled:false}},
      scales:{
        x:{type:'linear', position:'bottom', reverse:true, min:cfg.xLim[0], max:cfg.xLim[1],
          afterBuildTicks:useTicks(cfg.xTicks), afterFit:s => fix(s, null, H-box.bottom),
          title:{display:true, text:'Depth (m)', font:titleFont, color:INK, padding:{top:0, bottom:10}},
          ticks:{font:tickFont, color:INK, padding:34, maxRotation:0, autoSkip:false, callback:v => String(v)},
          border:{color:INK, width:3},
          grid:{color:GRID, lineWidth:3, tickLength:-9, tickColor:INK, tickWidth:3}},
        y:{type:'linear', position:'left', min:cfg.yLim[0], max:cfg.yLim[1],
          afterBuildTicks:useTicks(cfg.yTicks), afterFit:s => fix(s, box.left, null),
          title:{display:!!cfg.yTitle, text:cfg.yTitle, font:titleFont, color:INK, padding:{top:30, bottom:0}},
          ticks:{font:tickFont, color:INK, padding:25, labelOffset:5, autoSkip:false, callback:v => String(v)},
          border:{color:INK, width:3},
          grid:{color:GRID, lineWidth:3, tickLength:-9, tickColor:INK, tickWidth:3}},
        x2:mirror('x','top',cfg.xTicks,cfg.xLim,true),
        y2:mirror('y','right',cfg.yTicks,cfg.yLim,false)
      }
    },
    plugins:[notesPlugin(cfg.notes)]
  });
}

function mapChart(id, box, layers, bg, notes) {
  const W = document.getElementById(id).width, H = document.getElementById(id).height;
  const tickFont = {family:'Liberation Serif', size:44};
  const lonLim = [113.56,113.898], latLim = [22.3705,22.7698];
  const frame = {color:'#444', width:1.5};
  const mirror = (axis, pos, ticks, lim) => ({
    type:'linear', axis, position:pos, min:lim[0], max:lim[1],
    afterBuildTicks:useTicks(ticks), afterFit:s => fix(s, axis==='y'?0:null, axis==='x'?0:null),
    ticks:{display:false}, border:frame,
    grid:{drawOnChartArea:false, tickLength:15, tickColor:'#333', tickWidth:1.5}
  });
  return new Chart(document.getElementById(id), {
    type:'line',
    data:{datasets:layers.slice().reverse()},
    options:{
      responsive:false,
      layout:{padding:{left:0, top:box.top, right:W-box.right, bottom:0}},
      plugins:{legend:{display:false}, tooltip:{enabled:false}},
      scales:{
        x:{type:'linear', position:'bottom', min:lonLim[0], max:lonLim[1],
          afterBuildTicks:useTicks(lonTicks), afterFit:s => fix(s, null, H-box.bottom),
          ticks:{font:tickFont, color:'#000', padding:6, maxRotation:0, autoSkip:false, callback:v => v.toFixed(1)+'°E'},
          border:frame,
          grid:{drawOnChartArea:false, tickLength:15, tickColor:'#333', tickWidth:1.5}},
        y:{type:'linear', position:'left', min:latLim[0], max:latLim[1],
          afterBuildTicks:useTicks(latTicks), afterFit:s => fix(s, box.left, null),
          ticks:{display:box.latLabels, font:tickFont, color:'#000', padding:-36, minRotation:90, maxRotation:90, crossAlign:'center', autoSkip:false, callback:v => v.toFixed(1)+'°N'},
          border:frame,
          grid:{drawOnChartArea:false, tickLength:13, tickColor:'#333', tickWidth:1.5}},
        x2:mirror('x','top',lonTicks,lonLim),
        y2:mirror('y','right',latTicks,latLim)
      }
    },
    plugins:[plotBg(bg), notesPlugin(notes)]
  });
}

const dashSets = dashDepths.map(d => ({data:pts([d,d],[0,15]), borderColor:'#000', borderWidth:3, borderDash:[11,8], pointRadius:0}));
const serifB = s => 'bold '+s+'px "Liberation Serif"';
const sans = s => s+'px "Liberation Sans"';

curveChart('cA', {left:158.7, right:1032, top:55, bottom:754}, {
  xLim:[-22,3], yLim:[0,15], xTicks:areaXTicks, yTicks:areaYTicks, yTitle:'Area (m²)',
  datasets:[
    {data:pts(areaMarkX,areaMarkY), showLine:false, pointRadius:10, pointBackgroundColor:RED, pointBorderWidth:0, clip:false},
    {data:pts(areaDepth,areaValue), borderColor:BLUE, borderWidth:3.5, pointRadius:0},
    ...dashSets
  ],
  notes:[
    {x:.61, y:6, text:'0', font:sans(43)},
    {x:-7.16, y:12.23, text:'-5.75', font:sans(43)},
    {x:-3.73, y:4.46, text:'-2.25', font:sans(43)},
    {x:-10.3, y:2.62, text:'-9.25', font:sans(43)},
    {x:-19.9, y:1.31, text:'-21.75', font:sans(43)},
    {x:-16.07, y:13.78, text:'(a)Depth-area curve', font:serifB(43)}
  ]
});

curveChart('cB', {left:142.7, right:1014.7, top:55, bottom:754}, {
  xLim:[-25,5], yLim:[0,1], xTicks:cumXTicks, yTicks:cumYTicks, yTitle:'',
  datasets:[
    {data:pts(cumMarkX,cumMarkY), showLine:false, pointRadius:10, pointBackgroundColor:RED, pointBorderWidth:0, clip:false},
    {data:pts(cumDepth,cumValue), borderColor:BLUE, borderWidth:3.5, pointRadius:0}
  ],
  notes:[{x:-18.02, y:.888, text:'(b)cumulative freq.', font:serifB(43.5)}]
});

const islandDots = {data:pts(islandLon,islandLat), showLine:false, pointRadius:26, pointBackgroundColor:'rgba(0,0,0,0)', pointBorderColor:'#000', pointBorderWidth:2.5};
const landSets = rings(landRings, LAND, {borderColor:'#000', borderWidth:1.3, tension:0});
const islandNotes = islandNames.map((t,i) => ({x:islandLon[i], y:islandLat[i], text:t, font:sans(52)}));

mapChart('cC', {left:62.6, right:1038.6, top:29, bottom:1181, latLabels:true}, [
  ...rings(shallowRings, CYAN),
  dots(shallowDots, CYAN, 6),
  ...rings(midRings, MID),
  ...rings(greenRings, GREEN),
  dots(greenDots, GREEN, 4),
  ...rings([coastCyan], CYAN),
  ...rings(deepRings, DEEP),
  dots(deepDots, DEEP, 3.5),
  ...rings(holeRings, MID),
  ...rings(darkRings, DARK),
  dots(darkDots, DARK, 4),
  ...landSets,
  islandDots
], MID, [
  ...islandNotes,
  {x:113.8789, y:22.749, text:'(c)', font:'66px "Liberation Serif"'}
]);

mapChart('cD', {left:28, right:1007, top:29, bottom:1181, latLabels:false}, [
  ...rings(deepRings, DEEP),
  dots(deepDots, DEEP, 3.5),
  ...rings(holeRings, '#FFFFFF'),
  ...landSets,
  islandDots
], '#FFFFFF', [
  ...islandNotes,
  ...shoalNames.map((t,i) => ({x:shoalLon[i], y:shoalLat[i], text:t, font:'58px "Liberation Serif"', rot:shoalTilt[i]})),
  {x:113.8817, y:22.749, text:'(d)', font:'66px "Liberation Serif"'}
]);
</script>
</body>
</html>
